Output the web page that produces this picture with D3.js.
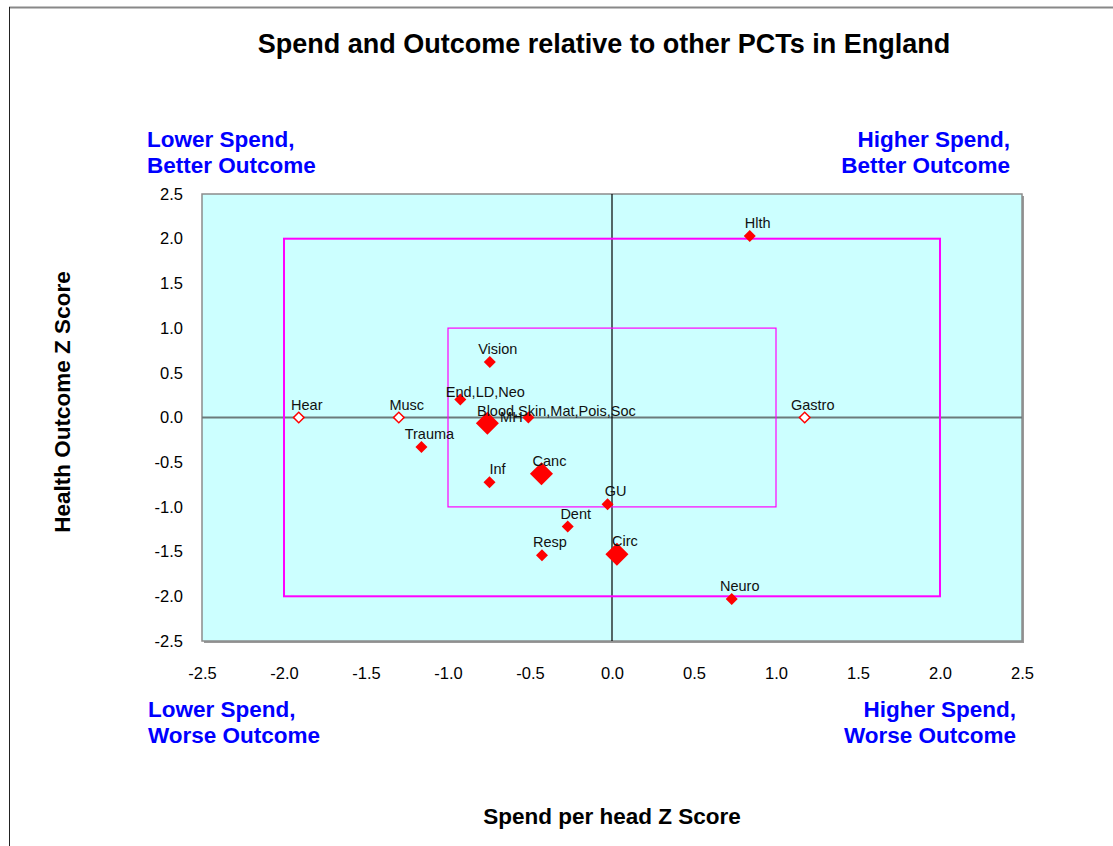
<!DOCTYPE html>
<html>
<head>
<meta charset="utf-8">
<script src="https://cdn.jsdelivr.net/npm/d3@7"></script>
<style>
  body { margin: 0; background: #fff; }
  svg { font-family: "Liberation Sans", Arial, sans-serif; display: block; }
</style>
</head>
<body>
<svg width="1113" height="846"></svg>
<script>
// programme budget categories and their z scores
const programmes = ['Hlth', 'Vision', 'End,LD,Neo', 'Hear', 'Musc', 'Gastro', 'MH',
  'Blood,Skin,Mat,Pois,Soc', 'Trauma', 'Canc', 'Inf', 'GU', 'Dent', 'Resp', 'Circ', 'Neuro'];
const spendZ = [0.84, -0.745, -0.925, -1.91, -1.30, 1.175, -0.76,
  -0.51, -1.162, -0.43, -0.747, -0.027, -0.27, -0.427, 0.03, 0.73];
const outcomeZ = [2.03, 0.62, 0.20, 0.0, 0.0, 0.0, -0.065,
  0.0, -0.33, -0.63, -0.725, -0.97, -1.22, -1.54, -1.53, -2.03];
const majorProgrammes = ['MH', 'Canc', 'Circ'];
const noOutcomeData = ['Hear', 'Musc', 'Gastro'];
const ticks = [-2.5, -2.0, -1.5, -1.0, -0.5, 0.0, 0.5, 1.0, 1.5, 2.0, 2.5];
const innerBand = 1, outerBand = 2;

const svg = d3.select('svg');
const fmt = v => d3.format('.1f')(v).replace('\u2212', '-');

// outer chart frame
svg.append('line').attr('x1', 9).attr('x2', 1113).attr('y1', 7.5).attr('y2', 7.5)
  .attr('stroke', '#888').attr('stroke-width', 2);
svg.append('line').attr('x1', 9.5).attr('x2', 9.5).attr('y1', 7).attr('y2', 846)
  .attr('stroke', '#222').attr('stroke-width', 1);

const x = d3.scaleLinear().domain([-2.5, 2.5]).range([202, 1022]);
const y = d3.scaleLinear().domain([-2.5, 2.5]).range([641, 194]);

// plot background with shadow
svg.append('rect').attr('x', x(-2.5) + 2).attr('y', y(2.5) + 2)
  .attr('width', x(2.5) - x(-2.5)).attr('height', y(-2.5) - y(2.5))
  .attr('fill', '#999');
svg.append('rect').attr('x', x(-2.5)).attr('y', y(2.5))
  .attr('width', x(2.5) - x(-2.5)).attr('height', y(-2.5) - y(2.5))
  .attr('fill', '#ccffff').attr('stroke', '#8c8c8c').attr('stroke-width', 1.5);

// zero lines
svg.append('line').attr('x1', x(-2.5)).attr('x2', x(2.5)).attr('y1', y(0)).attr('y2', y(0))
  .attr('stroke', '#6b7b7b').attr('stroke-width', 2);
svg.append('line').attr('x1', x(0)).attr('x2', x(0)).attr('y1', y(2.5)).attr('y2', y(-2.5))
  .attr('stroke', '#000').attr('stroke-width', 1.2);

// +-1 and +-2 boxes
[[innerBand, 1.2], [outerBand, 2]].forEach(([b, w]) => {
  svg.append('rect').attr('x', x(-b)).attr('y', y(b))
    .attr('width', x(b) - x(-b)).attr('height', y(-b) - y(b))
    .attr('fill', 'none').attr('stroke', '#ff00ff').attr('stroke-width', w);
});

// axes
const xAxis = svg.append('g').attr('transform', 'translate(0,673)')
  .call(d3.axisBottom(x).tickValues(ticks).tickFormat(fmt).tickSize(0).tickPadding(0));
xAxis.selectAll('text').attr('dy', '0.35em');
const yAxis = svg.append('g').attr('transform', 'translate(183,0)')
  .call(d3.axisLeft(y).tickValues(ticks).tickFormat(fmt).tickSize(0).tickPadding(0));
[xAxis, yAxis].forEach(a => {
  a.select('.domain').remove();
  a.selectAll('text').attr('font-size', 16.5).attr('fill', '#000')
    .attr('font-family', '"Liberation Sans", Arial, sans-serif');
});

// points
const points = programmes.map((p, i) => ({ name: p, sx: spendZ[i], oz: outcomeZ[i] }));
const diamond = (d) => {
  const area = majorProgrammes.includes(d.name) ? 265 : noOutcomeData.includes(d.name) ? 56 : 72;
  return d3.symbol(d3.symbolSquare, area)();
};
svg.append('g').selectAll('path').data(points).join('path')
  .attr('d', diamond)
  .attr('transform', d => `translate(${x(d.sx)},${y(d.oz)}) rotate(45)`)
  .attr('fill', d => noOutcomeData.includes(d.name) ? '#fff' : '#ff0000')
  .attr('stroke', d => noOutcomeData.includes(d.name) ? '#ff0000' : 'none')
  .attr('stroke-width', 1.5);

// data labels, nudged where Excel moved them apart
const labelShift = { 'End,LD,Neo': [25, -3], 'MH': [24, -1], 'Blood,Skin,Mat,Pois,Soc': [28, -2] };
svg.append('g').selectAll('text').data(points).join('text')
  .attr('x', d => x(d.sx) + (labelShift[d.name] ? labelShift[d.name][0] : 8))
  .attr('y', d => y(d.oz) + (labelShift[d.name] ? labelShift[d.name][1] : -8))
  .attr('text-anchor', 'middle').attr('font-size', 14.5).attr('fill', '#111')
  .text(d => d.name);

// title and axis titles
svg.append('text').attr('x', 604).attr('y', 53).attr('text-anchor', 'middle')
  .attr('font-size', 27).attr('font-weight', 'bold').text('Spend and Outcome relative to other PCTs in England');
svg.append('text').attr('x', 612).attr('y', 824).attr('text-anchor', 'middle')
  .attr('font-size', 22.5).attr('font-weight', 'bold').text('Spend per head Z Score');
svg.append('text').attr('transform', 'translate(70,402) rotate(-90)').attr('text-anchor', 'middle')
  .attr('font-size', 22.5).attr('font-weight', 'bold').text('Health Outcome Z Score');

// quadrant captions
const quadrants = [
  { lines: ['Lower Spend,', 'Better Outcome'], x: 147, y: 147, anchor: 'start' },
  { lines: ['Higher Spend,', 'Better Outcome'], x: 1010, y: 147, anchor: 'end' },
  { lines: ['Lower Spend,', 'Worse Outcome'], x: 148, y: 717, anchor: 'start' },
  { lines: ['Higher Spend,', 'Worse Outcome'], x: 1016, y: 717, anchor: 'end' }
];
quadrants.forEach(q => {
  const t = svg.append('text').attr('text-anchor', q.anchor).attr('font-size', 22.5)
    .attr('font-weight', 'bold').attr('fill', '#0000ff');
  q.lines.forEach((l, i) => t.append('tspan').attr('x', q.x).attr('y', q.y + i * 26).text(l));
});
</script>
</body>
</html>
